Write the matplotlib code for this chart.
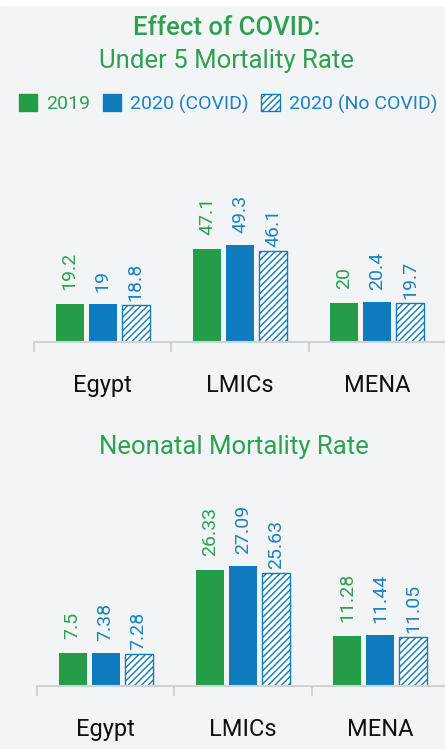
import matplotlib
matplotlib.use('Agg')
import matplotlib.pyplot as plt
from matplotlib.patches import Patch, Rectangle
import numpy as np

plt.rcParams['font.family'] = ['Roboto', 'DejaVu Sans']
plt.rcParams['hatch.linewidth'] = 1.0

regions = ['Egypt', 'LMICs', 'MENA']
series = ['2019', '2020 (COVID)', '2020 (No COVID)']

u5_2019 = [19.2, 47.1, 20]
u5_covid = [19, 49.3, 20.4]
u5_nocovid = [18.8, 46.1, 19.7]

nn_2019 = [7.5, 26.33, 11.28]
nn_covid = [7.38, 27.09, 11.44]
nn_nocovid = [7.28, 25.63, 11.05]

GREEN = '#249c48'
BLUE = '#0f7bbf'
GREEN_TXT = '#2ea052'
BLUE_TXT = '#1a82c4'
GRID = '#d2d2d2'
BG = '#f3f4f6'


def draw(ax, groups, ymax):
    x = np.arange(len(regions))
    offs = [-0.24, 0, 0.24]
    w = 0.205
    styles = [dict(color=GREEN),
              dict(color=BLUE),
              dict(facecolor='white', edgecolor=BLUE, hatch='/////', linewidth=1)]
    label_colors = [GREEN_TXT, BLUE_TXT, BLUE_TXT]
    pads = [14, 12, 4]
    for vals, off, st, lc, pad in zip(groups, offs, styles, label_colors, pads):
        bars = ax.bar(x + off, vals, w, **st)
        for b, v in zip(bars, vals):
            ax.annotate(f'{v:g}', (b.get_x() + b.get_width() / 2, v),
                        xytext=(0, pad), textcoords='offset pixels',
                        rotation=90, ha='center', va='bottom',
                        color=lc, fontsize=14)
    ax.set_xlim(-0.5, 2.5)
    ax.set_ylim(0, ymax)
    for s in ['top', 'left', 'right']:
        ax.spines[s].set_visible(False)
    ax.spines['bottom'].set_color(GRID)
    ax.spines['bottom'].set_linewidth(1.5)
    ax.set_yticks([])
    ax.set_xticks(x, regions)
    ax.set_xticks([-0.5, 0.5, 1.5, 2.5], minor=True)
    ax.tick_params(axis='x', which='major', length=0, pad=23,
                   labelsize=17, labelcolor='#111111')
    ax.tick_params(axis='x', which='minor', length=7.5, width=1.5,
                   color=GRID, direction='out')
    ax.patch.set_alpha(0)


fig = plt.figure(figsize=(4.45, 7.49), dpi=100, facecolor=BG)
fig.patches.append(Rectangle((0, 1 - 5 / 749), 1, 5 / 749,
                             transform=fig.transFigure, color='white'))

fig.text(0.51, 1 - 28 / 749, 'Effect of COVID:', ha='center', va='center',
         fontsize=18.5, color=GREEN_TXT, weight='medium')
fig.text(0.51, 1 - 61 / 749, 'Under 5 Mortality Rate', ha='center',
         va='center', fontsize=18.5, color=GREEN_TXT)

handles = [Patch(color=GREEN), Patch(color=BLUE),
           Patch(facecolor='white', edgecolor=BLUE, hatch='/////')]
leg = fig.legend(handles=handles, labels=series, loc='center left',
                 bbox_to_anchor=(19 / 445, 1 - 104 / 749), ncol=3,
                 frameon=False, fontsize=14, handlelength=0.95,
                 handleheight=0.95, handletextpad=0.45, columnspacing=0.65,
                 borderpad=0, borderaxespad=0)
for t, c in zip(leg.get_texts(), [GREEN_TXT, BLUE_TXT, BLUE_TXT]):
    t.set_color(c)

ax1 = fig.add_axes([34 / 445, (749 - 342) / 749, 412 / 445, 202 / 749])
draw(ax1, [u5_2019, u5_covid, u5_nocovid], 102.3)

fig.text(0.525, 1 - 447 / 749, 'Neonatal Mortality Rate', ha='center',
         va='center', fontsize=18.5, color=GREEN_TXT)

ax2 = fig.add_axes([37 / 445, (749 - 686) / 749, 412 / 445, 206 / 749])
draw(ax2, [nn_2019, nn_covid, nn_nocovid], 46.6)

fig.savefig('out.png', dpi=100, facecolor=BG)
